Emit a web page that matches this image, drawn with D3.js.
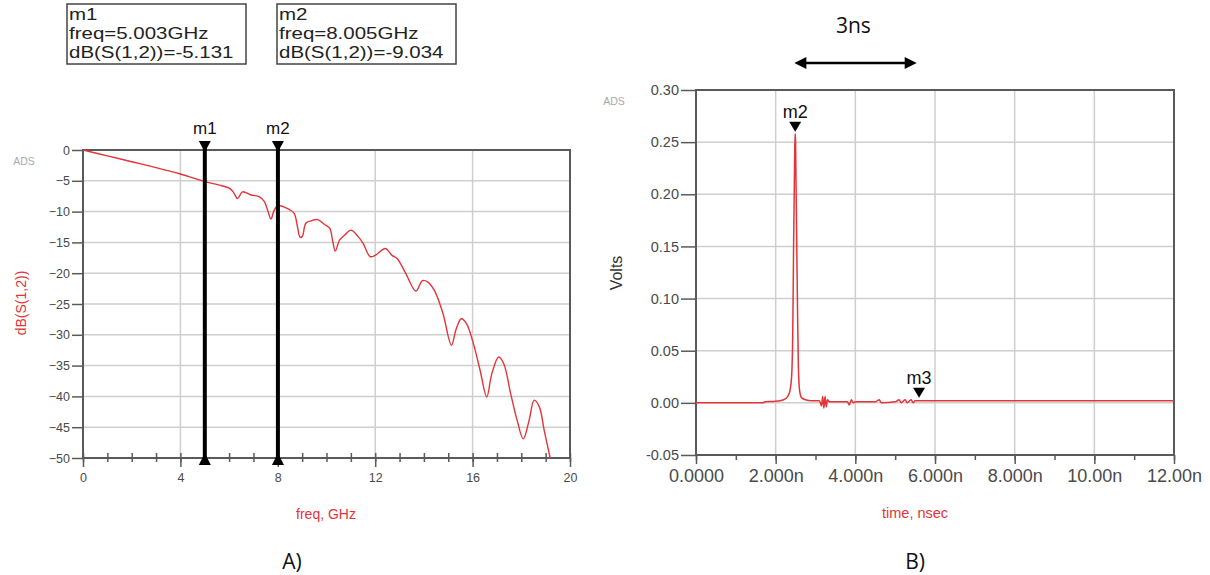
<!DOCTYPE html>
<html><head><meta charset="utf-8">
<script src="https://cdn.jsdelivr.net/npm/d3@7"></script>
<style>body{margin:0;background:#fff}svg{display:block;font-family:"Liberation Sans",Arial,sans-serif}</style>
</head><body><svg id="c" width="1210" height="575"></svg>
<script>
// ---- Data: panel A (S-parameter) ----
const freqGHz = [0,1,2,3,4,5.0,5.4,5.7,6.05,6.2,6.35,6.55,6.9,7.25,7.45,7.6,7.72,7.85,8.005,8.39,8.67,8.81,8.92,9.01,9.15,9.36,9.64,9.92,10.13,10.26,10.36,10.54,10.75,11.0,11.31,11.51,11.79,12.0,12.42,12.69,12.9,13.25,13.67,13.94,14.15,14.43,14.78,15.13,15.33,15.54,15.75,16.03,16.31,16.58,16.79,17.07,17.28,17.56,17.83,18.08,18.32,18.53,18.74,18.94,19.19];
const dBS12 = [0,-0.95,-1.9,-2.85,-3.9,-5.13,-5.5,-5.8,-6.3,-7.0,-7.9,-6.8,-7.3,-7.6,-8.4,-10.0,-11.2,-9.8,-9.03,-9.5,-10.3,-12.5,-14.2,-14.0,-11.9,-11.5,-11.3,-12.1,-12.7,-14.9,-16.4,-14.6,-13.8,-13.0,-14.1,-15.2,-17.3,-17.1,-16.0,-17.1,-17.6,-20.0,-22.9,-21.2,-21.4,-22.8,-26.5,-31.7,-29.0,-27.4,-28.2,-31.4,-35.8,-40.1,-36.3,-33.6,-34.7,-39.5,-43.9,-46.9,-43.9,-40.6,-41.7,-45.5,-50.1];
const freqTicks = [0,4,8,12,16,20];
const dBTicks = [0,-5,-10,-15,-20,-25,-30,-35,-40,-45,-50];
const markersA = [{name:"m1", freq:5.003, dB:-5.131}, {name:"m2", freq:8.005, dB:-9.034}];

// ---- Data: panel B (time domain) ----
const timeNs = [0,1.7,1.72,2.0,2.2,2.3,2.36,2.4,2.43,2.45,2.47,2.48,2.49,2.5,2.51,2.53,2.55,2.57,2.6,2.65,2.75,2.9,3.1,3.15,3.18,3.21,3.24,3.27,3.3,3.35,3.8,3.85,3.9,3.95,4.0,4.5,4.6,4.65,5.0,5.1,5.15,5.25,5.3,5.4,5.45,5.5,5.6,12];
const volts = [0,0,0.001,0.0015,0.003,0.006,0.012,0.025,0.07,0.15,0.215,0.245,0.258,0.25,0.215,0.15,0.085,0.035,0.012,0.005,0.003,0.002,0.002,-0.003,0.006,-0.005,0.006,-0.004,0.003,0.001,0.001,-0.002,0.003,0,0.001,0.001,0.003,0,0.001,0.003,0,0.003,0,0.003,0,0.002,0.002,0.002];
const timeTicks = [0,2,4,6,8,10,12];
const timeTickLabels = ["0.0000","2.000n","4.000n","6.000n","8.000n","10.00n","12.00n"];
const voltTicks = [0.30,0.25,0.20,0.15,0.10,0.05,0.00,-0.05];
const markersB = [{name:"m2", t:2.49, v:0.258}, {name:"m3", t:5.6, v:0.003}];
const spanArrow = [2.47, 5.54];

const svg = d3.select("#c");
const RED = "#e3343a", GRID = "#cfcfcf", FRAME = "#5a5a5a", TXT = "#4a4a4a";

// ================= Panel A =================
const xA = d3.scaleLinear().domain([0,20]).range([83,570]);
const yA = d3.scaleLinear().domain([-50,0]).range([458,150]);
const gA = svg.append("g");
gA.selectAll(".hg").data(dBTicks.slice(1,-1)).join("line")
  .attr("x1",83).attr("x2",570).attr("y1",d=>yA(d)).attr("y2",d=>yA(d))
  .attr("stroke",GRID).attr("stroke-width",1.5);
gA.selectAll(".vg").data(freqTicks.slice(1,-1)).join("line")
  .attr("y1",150).attr("y2",458).attr("x1",d=>xA(d)).attr("x2",d=>xA(d))
  .attr("stroke",GRID).attr("stroke-width",1.5);
gA.append("rect").attr("x",83).attr("y",150).attr("width",487).attr("height",308)
  .attr("fill","none").attr("stroke",FRAME).attr("stroke-width",2);
const axYA = d3.axisLeft(yA).tickValues(dBTicks).tickSize(11).tickPadding(2).tickFormat(d3.format("d"));
gA.append("g").attr("transform","translate(83,0)").call(axYA)
  .call(g=>g.select(".domain").remove())
  .call(g=>g.selectAll("line").attr("stroke",FRAME).attr("stroke-width",1.5))
  .call(g=>g.selectAll("text").attr("fill",TXT).attr("font-size",12.5).attr("font-family","Liberation Sans, Arial"));
const axXAminor = d3.axisBottom(xA).tickValues(d3.range(0,21,1)).tickSize(9).tickFormat("");
gA.append("g").attr("transform","translate(0,453)").call(axXAminor)
  .call(g=>g.select(".domain").remove())
  .call(g=>g.selectAll("line").attr("stroke",FRAME).attr("stroke-width",1.5));
const axXA = d3.axisBottom(xA).tickValues(freqTicks).tickSize(9).tickPadding(6);
gA.append("g").attr("transform","translate(0,458)").call(axXA)
  .call(g=>g.select(".domain").remove())
  .call(g=>g.selectAll("line").attr("stroke",FRAME).attr("stroke-width",1.5))
  .call(g=>g.selectAll("text").attr("fill",TXT).attr("font-size",12.5).attr("font-family","Liberation Sans, Arial"));
svg.append("clipPath").attr("id","clipA").append("rect").attr("x",83).attr("y",148).attr("width",487).attr("height",311);
const lineA = d3.line().x((d,i)=>xA(freqGHz[i])).y(d=>yA(d)).curve(d3.curveCatmullRom.alpha(0.5));
gA.append("path").datum(dBS12).attr("d",lineA).attr("clip-path","url(#clipA)")
  .attr("fill","none").attr("stroke",RED).attr("stroke-width",1.4);
markersA.forEach(m=>{
  const x = xA(m.freq);
  gA.append("line").attr("x1",x).attr("x2",x).attr("y1",146).attr("y2",462).attr("stroke","#000").attr("stroke-width",4);
  gA.append("path").attr("d",`M${x-6},${141}L${x+6},${141}L${x},${152}Z`).attr("fill","#000");
  gA.append("path").attr("d",`M${x-6},${465}L${x+6},${465}L${x},${453}Z`).attr("fill","#000");
  gA.append("text").attr("x",x).attr("y",134).attr("text-anchor","middle").attr("font-size",17).attr("fill","#111").text(m.name);
});
const boxX = [67,277];
markersA.forEach((m,i)=>{
  const bx = boxX[i], by = 4;
  gA.append("rect").attr("x",bx).attr("y",by).attr("width",179).attr("height",60)
    .attr("fill","#fff").attr("stroke","#444").attr("stroke-width",1.5);
  const lines = [m.name, `freq=${m.freq.toFixed(3)}GHz`, `dB(S(1,2))=${m.dB.toFixed(3)}`];
  lines.forEach((s,j)=>{
    const t = gA.append("text").attr("x",bx+2).attr("y",by+15.5+j*19.3)
      .attr("font-size",16.8).attr("fill","#222").text(s);
    const w = t.node().getComputedTextLength();
    t.attr("textLength", w*1.22).attr("lengthAdjust","spacingAndGlyphs");
  });
});
gA.append("text").attr("x",24).attr("y",165).attr("text-anchor","middle").attr("font-size",10.5).attr("fill","#aaa").text("ADS");
gA.append("text").attr("transform","translate(26,303) rotate(-90)").attr("text-anchor","middle")
  .attr("font-size",14).attr("fill",RED).text("dB(S(1,2))");
gA.append("text").attr("x",326).attr("y",519).attr("text-anchor","middle").attr("font-size",14).attr("fill",RED).text("freq, GHz");
gA.append("text").attr("x",292).attr("y",569).attr("text-anchor","middle").attr("font-size",21).attr("font-family","Open Sans, Liberation Sans").attr("fill","#111").text("A)");

// ================= Panel B =================
const xB = d3.scaleLinear().domain([0,12]).range([696,1174]);
const yB = d3.scaleLinear().domain([-0.05,0.30]).range([455,90]);
const gB = svg.append("g");
gB.selectAll(".hg").data(voltTicks.slice(1,-1)).join("line")
  .attr("x1",696).attr("x2",1174).attr("y1",d=>yB(d)).attr("y2",d=>yB(d))
  .attr("stroke",GRID).attr("stroke-width",1.5);
gB.selectAll(".vg").data(timeTicks.slice(1,-1)).join("line")
  .attr("y1",90).attr("y2",455).attr("x1",d=>xB(d)).attr("x2",d=>xB(d))
  .attr("stroke",GRID).attr("stroke-width",1.5);
gB.append("rect").attr("x",696).attr("y",90).attr("width",478).attr("height",365)
  .attr("fill","none").attr("stroke",FRAME).attr("stroke-width",2);
const axYB = d3.axisLeft(yB).tickValues(voltTicks).tickSize(15).tickPadding(2).tickFormat(d=>d3.format(".2f")(d).replace("−","-"));
gB.append("g").attr("transform","translate(696,0)").call(axYB)
  .call(g=>g.select(".domain").remove())
  .call(g=>g.selectAll("line").attr("stroke",FRAME).attr("stroke-width",1.5))
  .call(g=>g.selectAll("text").attr("fill",TXT).attr("font-size",14.5).attr("font-family","Liberation Sans, Arial"));
const axXBminor = d3.axisBottom(xB).tickValues(d3.range(0,13,1)).tickSize(5).tickFormat("");
gB.append("g").attr("transform","translate(0,455)").call(axXBminor)
  .call(g=>g.select(".domain").remove())
  .call(g=>g.selectAll("line").attr("stroke",FRAME).attr("stroke-width",1.5));
const axXB = d3.axisBottom(xB).tickValues(timeTicks).tickSize(9).tickPadding(5).tickFormat((d,i)=>timeTickLabels[i]);
gB.append("g").attr("transform","translate(0,455)").call(axXB)
  .call(g=>g.select(".domain").remove())
  .call(g=>g.selectAll("line").attr("stroke",FRAME).attr("stroke-width",1.5))
  .call(g=>g.selectAll("text").attr("fill",TXT).attr("font-size",18).attr("font-family","Liberation Sans, Arial"));
const lineB = d3.line().x((d,i)=>xB(timeNs[i])).y(d=>yB(d)).curve(d3.curveMonotoneX);
gB.append("path").datum(volts).attr("d",lineB)
  .attr("fill","none").attr("stroke",RED).attr("stroke-width",1.5);
markersB.forEach(m=>{
  const x = xB(m.t), y = yB(m.v);
  gB.append("path").attr("d",`M${x-6},${y-12}L${x+6},${y-12}L${x},${y-2}Z`).attr("fill","#000");
  gB.append("text").attr("x",x).attr("y",y-16).attr("text-anchor","middle").attr("font-size",18).attr("fill","#111").text(m.name);
});
gB.append("text").attr("x",614).attr("y",105).attr("text-anchor","middle").attr("font-size",10.5).attr("fill","#aaa").text("ADS");
gB.append("text").attr("transform","translate(622,273) rotate(-90)").attr("text-anchor","middle")
  .attr("font-size",16).attr("fill","#333").text("Volts");
gB.append("text").attr("x",xB(5.5)).attr("y",518).attr("text-anchor","middle").attr("font-size",14.5).attr("fill",RED).text("time, nsec");
gB.append("text").attr("x",xB(5.5)).attr("y",569).attr("text-anchor","middle").attr("font-size",21).attr("font-family","Open Sans, Liberation Sans").attr("fill","#111").text("B)");
const ax1 = xB(spanArrow[0]), ax2 = xB(spanArrow[1]), ay = 63;
gB.append("line").attr("x1",ax1+8).attr("x2",ax2-8).attr("y1",ay).attr("y2",ay).attr("stroke","#000").attr("stroke-width",2.5);
gB.append("path").attr("d",`M${ax1},${ay}L${ax1+12},${ay-6}L${ax1+12},${ay+6}Z`).attr("fill","#000");
gB.append("path").attr("d",`M${ax2},${ay}L${ax2-12},${ay-6}L${ax2-12},${ay+6}Z`).attr("fill","#000");
gB.append("text").attr("x",xB(3.95)).attr("y",33).attr("text-anchor","middle").attr("font-size",21).attr("font-family","Open Sans, Liberation Sans").attr("fill","#111").text("3ns");
</script></body></html>
